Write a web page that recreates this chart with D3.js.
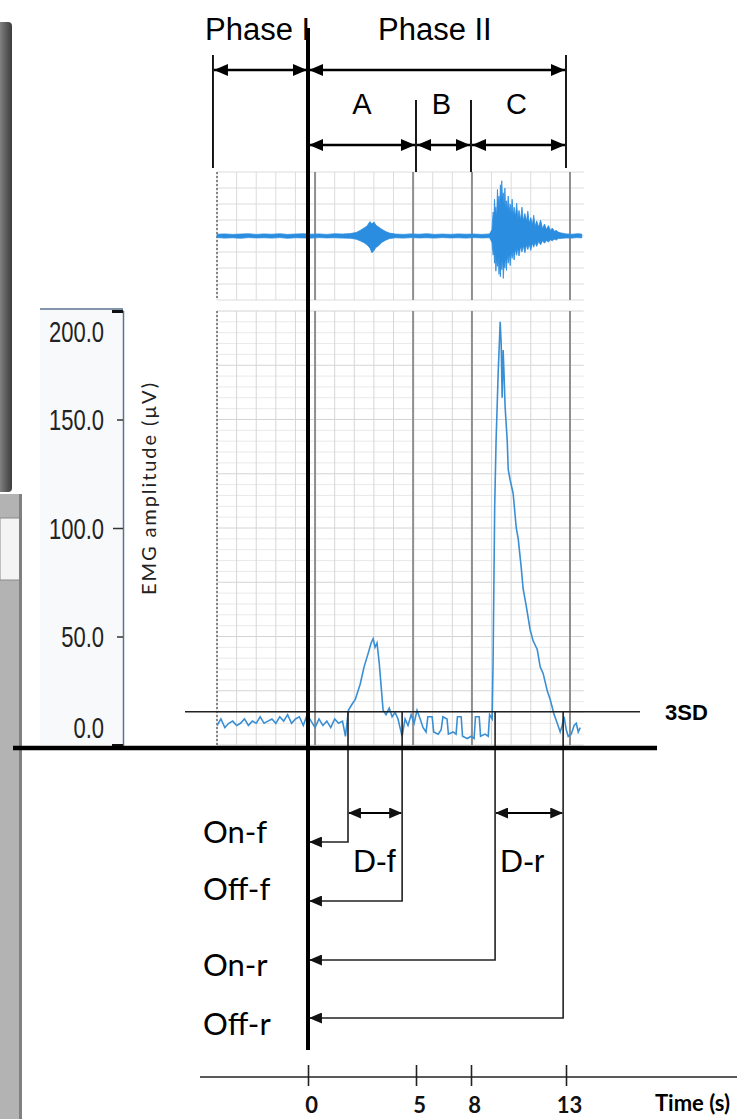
<!DOCTYPE html>
<html>
<head>
<meta charset="utf-8">
<script src="https://cdn.jsdelivr.net/npm/d3@7"></script>
<style>
  body { margin: 0; background: #fff; }
  svg { display: block; }
</style>
</head>
<body>
<div id="chart"></div>
<script>
// rectified EMG, recording time (s) and amplitude (µV)
var rectTime = [-5, -4.8, -4.6, -4.4, -4.2, -4.0, -3.8, -3.6, -3.4, -3.2, -3.0, -2.8, -2.6, -2.4, -2.2, -2.0, -1.8, -1.6, -1.4, -1.2, -1.0, -0.8, -0.6, -0.4, -0.2, 0, 0.2, 0.4, 0.6, 0.8, 1.0, 1.2, 1.4, 1.55,
    1.7, 1.9, 2.05, 2.3, 2.5, 2.7, 2.86, 2.96, 3.06, 3.16, 3.27, 3.37, 3.47, 3.62, 3.78, 3.93, 4.08, 4.23, 4.44,
    4.59, 4.74, 4.9, 5.05, 5.2, 5.36, 5.51, 5.66, 5.75, 5.97, 6.05, 6.28, 6.43, 6.52, 6.73, 6.8, 7.04, 7.19, 7.26, 7.45, 7.52, 7.76, 7.96, 8.11, 8.18, 8.37, 8.44, 8.67, 8.83, 8.9, 9.03,
    9.08, 9.16, 9.23, 9.34, 9.44, 9.49, 9.54, 9.59, 9.64, 9.69, 9.8, 9.85, 9.95, 10.1, 10.26, 10.36, 10.51, 10.61, 10.77, 10.97, 11.12, 11.33, 11.48, 11.63, 11.84, 11.99, 12.19, 12.35, 12.5,
    12.6, 12.7, 12.81, 12.91, 13.06, 13.21, 13.32, 13.42, 13.52]
var rectValue = [9, 12, 8, 10, 11, 9, 10, 12, 9, 11, 10, 13, 10, 11, 12, 10, 13, 11, 14, 10, 12, 13, 9, 14, 11, 8, 12, 9, 11, 8, 12, 10, 11, 4,
    16, 19, 21, 28, 36, 42, 47, 49, 45, 47, 38, 27, 16, 14, 17, 13, 15, 12, 4,
    12, 9, 14, 10, 16, 12, 8, 6, 13, 13, 6, 5, 7, 13, 12, 5, 6, 5, 13, 13, 4, 3, 4, 3, 13, 13, 4, 5, 4, 14, 12,
    40, 110, 140, 172, 195, 185, 160, 182, 170, 156, 140, 127, 122, 116, 100, 95, 82, 72, 64, 53, 48, 44, 36, 33, 25, 21, 14, 10, 6,
    9, 13, 7, 4, 5, 9, 10, 6, 8]

// raw EMG envelope (upper / lower excursion)
var rawTime = [-5, -4.6, -4.2, -3.8, -3.4, -3.0, -2.6, -2.2, -1.8, -1.4, -1.0, -0.6, -0.2, 0.2, 0.6, 1.0, 1.4, 1.8,
    2.1, 2.3, 2.5, 2.65, 2.8, 2.9, 3.0, 3.1, 3.25, 3.4, 3.6, 3.8,
    4.1, 4.5, 4.9, 5.3, 5.7, 6.1, 6.5, 6.9, 7.3, 7.7, 8.1, 8.5, 8.9,
    9.02, 9.08, 9.12, 9.15, 9.19, 9.22, 9.26, 9.3, 9.34, 9.38, 9.42, 9.45, 9.49, 9.52, 9.56, 9.6, 9.64, 9.68, 9.72, 9.76, 9.8, 9.85, 9.9, 9.95, 10.0, 10.05, 10.1, 10.15, 10.22, 10.28, 10.34, 10.4, 10.48, 10.55, 10.62, 10.7, 10.78, 10.85, 10.92, 11.0, 11.08, 11.15, 11.22, 11.3, 11.4, 11.5, 11.6, 11.7, 11.8, 11.9, 12.0, 12.1, 12.2, 12.3, 12.4, 12.5,
    12.8, 13.1, 13.4, 13.6]
var rawUpper = [11, 13, 10, 12, 14, 10, 13, 11, 14, 10, 12, 14, 11, 13, 10, 14, 12, 15,
    22, 35, 50, 62, 90, 75, 88, 68, 55, 42, 28, 18,
    12, 10, 13, 11, 14, 10, 12, 10, 13, 11, 12, 10, 13,
    40, 150, 110, 230, 150, 180, 120, 290, 200, 250, 180, 320, 240, 345, 230, 270, 190, 300, 170, 220, 160, 250, 150, 200, 140, 230, 130, 180, 120, 205, 110, 160, 100, 180, 95, 140, 90, 155, 80, 115, 70, 130, 60, 95, 55, 100, 45, 75, 40, 65, 35, 50, 30, 35, 25, 20,
    13, 11, 14, 12]
var rawLower = [-10, -13, -11, -14, -10, -12, -11, -13, -10, -14, -11, -12, -13, -10, -12, -11, -13, -14,
    -20, -30, -42, -55, -75, -105, -92, -72, -60, -40, -26, -16,
    -11, -13, -10, -12, -11, -13, -10, -12, -11, -13, -10, -12, -11,
    -40, -120, -80, -170, -110, -220, -140, -190, -130, -240, -160, -255, -150, -210, -140, -265, -170, -200, -130, -215, -120, -170, -110, -185, -100, -140, -90, -150, -80, -120, -75, -125, -65, -100, -60, -105, -55, -85, -50, -90, -45, -70, -40, -65, -35, -55, -30, -45, -28, -38, -24, -30, -20, -25, -16, -15,
    -12, -13, -10, -12]

var threshold = 15.3
var yTicks = [0, 50, 100, 150, 200]
var eventTimes = [0, 5, 8, 13]
var timeTicks = [0, 5, 8, 13]
var phaseBounds = [-4.4, 0, 13]
var segBounds = [0, 5, 8, 13]
var segLabels = ["A", "B", "C"]
var onOffTimes = [1.68, 4.44, 9.18, 12.65]
var onOffLabels = ["On-f", "Off-f", "On-r", "Off-r"]
var durLabels = ["D-f", "D-r"]

var W = 745, H = 1119

var svg = d3.select("#chart").append("svg")
    .attr("width", W)
    .attr("height", H)

// arrow heads
var defs = svg.append("defs")
defs.append("marker")
    .attr("id", "head")
    .attr("viewBox", "0 0 14 12")
    .attr("refX", 14).attr("refY", 6)
    .attr("markerWidth", 14).attr("markerHeight", 12)
    .attr("markerUnits", "userSpaceOnUse")
    .attr("orient", "auto-start-reverse")
    .append("path").attr("d", "M0,0 L14,6 L0,12 Z").attr("fill", "#000")
defs.append("marker")
    .attr("id", "head-s")
    .attr("viewBox", "0 0 14 12")
    .attr("refX", 13).attr("refY", 6)
    .attr("markerWidth", 13).attr("markerHeight", 11)
    .attr("markerUnits", "userSpaceOnUse")
    .attr("orient", "auto-start-reverse")
    .append("path").attr("d", "M0,0 L14,6 L0,12 Z").attr("fill", "#111")

// left edge leftovers of the screenshot
var lg = defs.append("linearGradient").attr("id", "edge").attr("x1", 0).attr("x2", 1)
lg.append("stop").attr("offset", "0%").attr("stop-color", "#9a9a9a")
lg.append("stop").attr("offset", "60%").attr("stop-color", "#5e5e5e")
lg.append("stop").attr("offset", "100%").attr("stop-color", "#3e3e3e")
svg.append("rect").attr("x", -4).attr("y", 22).attr("width", 16).attr("height", 470)
    .attr("rx", 4).attr("fill", "url(#edge)")
svg.append("rect").attr("x", 0).attr("y", 494).attr("width", 22).attr("height", 625).attr("fill", "#b3b3b3")
svg.append("rect").attr("x", 0).attr("y", 518).attr("width", 20).attr("height", 62)
    .attr("fill", "#f4f4f4").attr("stroke", "#8a8a8a")
svg.append("rect").attr("x", 19).attr("y", 494).attr("width", 3).attr("height", 625).attr("fill", "#808080")

// scales
var x = d3.scaleLinear().domain([-5, 13]).range([217, 570])          // recording time
var xs = d3.scaleLinear().domain([0, 5, 8, 13]).range([308, 416, 471, 566])   // schematic time
var y = d3.scaleLinear().domain([0, 200]).range([745, 311])
var yr = d3.scaleLinear().domain([-400, 400]).range([300, 172])

var tEnd = 13.7
var secs = d3.range(-5, 14, 1)

// y axis background
svg.append("rect").attr("x", 40).attr("y", 308).attr("width", 83).attr("height", 437).attr("fill", "#f8f9fb")

// ---- raw EMG panel
var raw = svg.append("g")
raw.selectAll(".hg").data(d3.range(-400, 401, 100)).enter().append("line")
    .attr("x1", x(-5)).attr("x2", x(tEnd))
    .attr("y1", d => yr(d)).attr("y2", d => yr(d))
    .attr("stroke", "#dcdcdc").attr("stroke-width", 1)
raw.selectAll(".vg").data(secs).enter().append("line")
    .attr("x1", d => x(d)).attr("x2", d => x(d))
    .attr("y1", yr(400)).attr("y2", yr(-400))
    .attr("stroke", "#dcdcdc").attr("stroke-width", 1)

// ---- rectified panel
var rect = svg.append("g")
rect.selectAll(".hg").data(d3.range(0, 201, 5)).enter().append("line")
    .attr("x1", x(-5)).attr("x2", x(tEnd))
    .attr("y1", d => y(d)).attr("y2", d => y(d))
    .attr("stroke", d => d % 25 === 0 ? "#d4d4d4" : "#e9e9e9").attr("stroke-width", 1)
rect.selectAll(".vg").data(secs).enter().append("line")
    .attr("x1", d => x(d)).attr("x2", d => x(d))
    .attr("y1", y(200)).attr("y2", y(0))
    .attr("stroke", "#d6d6d6").attr("stroke-width", 1)

// event lines in both panels
svg.selectAll(".ev").data(eventTimes).enter().append("g").each(function(d) {
    var g = d3.select(this)
    g.append("line").attr("x1", x(d)).attr("x2", x(d)).attr("y1", yr(400)).attr("y2", yr(-400))
        .attr("stroke", "#8f8f8f").attr("stroke-width", 2)
    g.append("line").attr("x1", x(d)).attr("x2", x(d)).attr("y1", y(200)).attr("y2", y(0))
        .attr("stroke", "#8f8f8f").attr("stroke-width", 2)
})

// dashed left border
svg.append("line").attr("x1", x(-5)).attr("x2", x(-5)).attr("y1", yr(400)).attr("y2", yr(-400))
    .attr("stroke", "#666").attr("stroke-width", 1.5).attr("stroke-dasharray", "2,2")
svg.append("line").attr("x1", x(-5)).attr("x2", x(-5)).attr("y1", y(200)).attr("y2", y(0))
    .attr("stroke", "#666").attr("stroke-width", 1.5).attr("stroke-dasharray", "2,2")

// raw signal
var rawData = rawTime.map((t, i) => ({ t: t, hi: rawUpper[i], lo: rawLower[i] }))
var rawArea = d3.area()
    .x(d => x(d.t))
    .y0(d => yr(d.lo))
    .y1(d => yr(d.hi))
svg.append("path").datum(rawData)
    .attr("d", rawArea)
    .attr("fill", "#2b8de0")
    .attr("stroke", "#2b8de0").attr("stroke-width", 0.8)

// rectified signal
var rectData = rectTime.map((t, i) => ({ t: t, v: rectValue[i] }))
var rectLine = d3.line().x(d => x(d.t)).y(d => y(d.v))
svg.append("path").datum(rectData)
    .attr("d", rectLine)
    .attr("fill", "none")
    .attr("stroke", "#3a8fd4").attr("stroke-width", 1.6)

// ---- y axis
var yAxis = d3.axisLeft(y)
    .tickValues(yTicks)
    .tickFormat(d3.format(".1f"))
    .tickSize(6)
    .tickPadding(13)
var gy = svg.append("g").attr("transform", "translate(123,0)").call(yAxis)
gy.select(".domain").attr("stroke", "#5d7393").attr("stroke-width", 1.5)
gy.selectAll(".tick line").attr("stroke", "#333").attr("stroke-width", 1.5)
    .attr("x2", d => d === 100 ? -10 : -6)
gy.selectAll(".tick text")
    .attr("fill", "#222")
    .style("font-family", "'Liberation Sans', Arial, sans-serif")
    .style("font-size", "22px")
    .attr("transform", "scale(1,1.3)")
    .attr("dy", d => d === 200 ? "1.05em" : (d === 0 ? "-0.25em" : "0.36em"))
gy.selectAll(".tick").filter(d => d === 0 || d === 200).append("line")
    .attr("x1", -11).attr("x2", 0).attr("stroke", "#111").attr("stroke-width", 3)
svg.append("line").attr("x1", 40).attr("x2", 123).attr("y1", y(200) - 2).attr("y2", y(200) - 2)
    .attr("stroke", "#5d7393").attr("stroke-width", 1.5)

svg.append("text")
    .attr("transform", "translate(156,489) rotate(-90)")
    .attr("text-anchor", "middle")
    .attr("textLength", 212)
    .style("font-family", "Lato, 'Open Sans', sans-serif")
    .style("font-size", "20px")
    .attr("fill", "#222")
    .text("EMG amplitude (µV)")

// ---- schematic annotations
var ann = svg.append("g")

// phase labels
ann.append("text").attr("x", 205).attr("y", 40)
    .style("font-family", "'Liberation Sans', Arial, sans-serif").style("font-size", "31px")
    .text("Phase I")
ann.append("text").attr("x", 378).attr("y", 40)
    .style("font-family", "'Liberation Sans', Arial, sans-serif").style("font-size", "31px")
    .text("Phase II")

// phase boundary lines
ann.selectAll(".pb").data([phaseBounds[0], phaseBounds[2]]).enter().append("line")
    .attr("x1", d => xs(d)).attr("x2", d => xs(d)).attr("y1", 55).attr("y2", 168)
    .attr("stroke", "#000").attr("stroke-width", 1.8)
ann.selectAll(".sb").data([segBounds[1], segBounds[2]]).enter().append("line")
    .attr("x1", d => xs(d)).attr("x2", d => xs(d)).attr("y1", 100).attr("y2", 172)
    .attr("stroke", "#000").attr("stroke-width", 1.8)

// phase arrows
d3.pairs(phaseBounds).forEach(function(p) {
    ann.append("line").attr("x1", xs(p[0]) + 1).attr("x2", xs(p[1]) - 1).attr("y1", 70).attr("y2", 70)
        .attr("stroke", "#000").attr("stroke-width", 2.5)
        .attr("marker-start", "url(#head)").attr("marker-end", "url(#head)")
})
// segment arrows and labels
d3.pairs(segBounds).forEach(function(p, i) {
    ann.append("line").attr("x1", xs(p[0]) + 1).attr("x2", xs(p[1]) - 1).attr("y1", 145).attr("y2", 145)
        .attr("stroke", "#000").attr("stroke-width", 2.5)
        .attr("marker-start", "url(#head)").attr("marker-end", "url(#head)")
    ann.append("text").attr("x", (xs(p[0]) + xs(p[1])) / 2 + (i === 0 ? 0 : -2)).attr("y", 114)
        .attr("text-anchor", "middle")
        .style("font-family", "'Liberation Sans', Arial, sans-serif").style("font-size", "29px")
        .text(segLabels[i])
})

// 3SD threshold
ann.append("line").attr("x1", 185).attr("x2", 640).attr("y1", y(threshold)).attr("y2", y(threshold))
    .attr("stroke", "#222").attr("stroke-width", 1.5)
ann.append("text").attr("x", 665).attr("y", y(threshold) + 8)
    .style("font-family", "'Liberation Sans', Arial, sans-serif").style("font-size", "22px")
    .style("font-weight", "bold")
    .text("3SD")

// on / off markers
var arrowY = [842, 901, 960, 1018]
onOffTimes.forEach(function(t, i) {
    ann.append("path")
        .attr("d", "M" + x(t) + "," + y(threshold) + " V" + arrowY[i] + " H" + (xs(0) + 2))
        .attr("fill", "none").attr("stroke", "#222").attr("stroke-width", 1.6)
        .attr("marker-end", "url(#head-s)")
})
var labelY = [843, 900, 976, 1035]
onOffLabels.forEach(function(l, i) {
    ann.append("text").attr("x", 203).attr("y", labelY[i])
        .style("font-family", "Lato, 'Open Sans', sans-serif").style("font-size", "31px")
        .text(l)
})

// durations
d3.range(2).forEach(function(k) {
    var a = x(onOffTimes[2 * k]), b = x(onOffTimes[2 * k + 1])
    ann.append("line").attr("x1", a + 1).attr("x2", b - 1).attr("y1", 813).attr("y2", 813)
        .attr("stroke", "#000").attr("stroke-width", 2)
        .attr("marker-start", "url(#head-s)").attr("marker-end", "url(#head-s)")
    ann.append("text").attr("x", a + 5).attr("y", 872)
        .style("font-family", "'Liberation Sans', Arial, sans-serif").style("font-size", "32px")
        .text(durLabels[k])
})

// thick baseline and time zero line
ann.append("line").attr("x1", 13).attr("x2", 657).attr("y1", 748).attr("y2", 748)
    .attr("stroke", "#000").attr("stroke-width", 4.5)
ann.append("line").attr("x1", xs(0)).attr("x2", xs(0)).attr("y1", 28).attr("y2", 1050)
    .attr("stroke", "#000").attr("stroke-width", 4)

// ---- bottom time axis
var xAxis = d3.axisBottom(xs)
    .tickValues(timeTicks)
    .tickFormat(d3.format("d"))
    .tickSize(9)
    .tickPadding(11)
var gx = svg.append("g").attr("transform", "translate(0,1077)").call(xAxis)
gx.select(".domain").remove()
gx.append("line").attr("x1", 200).attr("x2", 737).attr("stroke", "#222").attr("stroke-width", 1.6)
gx.selectAll(".tick line").attr("y1", -12).attr("y2", 9).attr("stroke", "#222").attr("stroke-width", 1.6)
gx.selectAll(".tick text")
    .attr("fill", "#111")
    .attr("x", 3)
    .style("font-family", "Lato, 'Open Sans', sans-serif")
    .style("font-size", "22px").style("font-weight", "bold")
svg.append("text").attr("x", 655).attr("y", 1111)
    .style("font-family", "Lato, 'Open Sans', sans-serif").style("font-size", "22px")
    .style("font-weight", "bold")
    .text("Time  (s)")
</script>
</body>
</html>
